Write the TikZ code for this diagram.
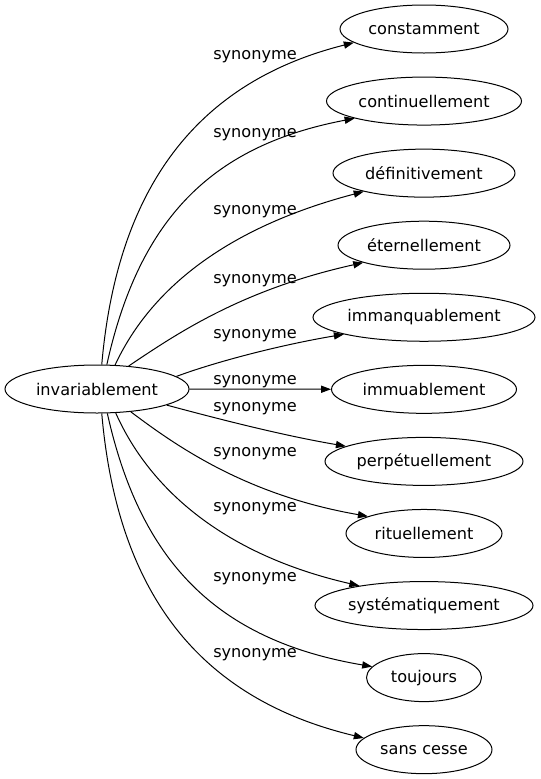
\documentclass[tikz,border=0pt]{standalone}
\usepackage{fontspec}
\setmainfont{DejaVu Sans}
\usetikzlibrary{arrows.meta, positioning, shapes.geometric}

\begin{document}
\begin{tikzpicture}
   [
      % Work in pixels of the original drawing, y pointing down
      x=0.75pt, y=-0.75pt,
      % Style for the words: ellipse, thin border, fixed height
      word/.style={ellipse, draw, line width=0.75pt, minimum height=36pt, inner sep=0pt, font=\fontsize{12.1pt}{14pt}\selectfont},
      % Style for the synonym arrows
      link/.style={line width=0.75pt, -{Triangle[length=7.5pt, width=5.4pt]}},
      % Style for the arrow labels
      link label/.style={inner sep=0pt, font=\fontsize{12.1pt}{14pt}\selectfont}
   ]
   \useasboundingbox (0,0) rectangle (540,779);

    % =======================================================
    % Source word
    % =======================================================
    \node[word, minimum width=138pt] (inv) at (97,389) {invariablement};

    % =======================================================
    % Target words, stacked in one column
    % =======================================================
    \node[word, minimum width=126pt] (const) at (424,29) {constamment};
    \node[word, minimum width=146.25pt, below=17.3pt of const] (contin) {continuellement};
    \node[word, minimum width=136.5pt, below=17.3pt of contin] (defin) {définitivement};
    \node[word, minimum width=129pt, below=17.3pt of defin] (etern) {éternellement};
    \node[word, minimum width=166.5pt, below=17.3pt of etern] (immanq) {immanquablement};
    \node[word, minimum width=138.75pt, below=17.3pt of immanq] (immuab) {immuablement};
    \node[word, minimum width=148.5pt, below=17.3pt of immuab] (perpet) {perpétuellement};
    \node[word, minimum width=117pt, below=17.3pt of perpet] (rituel) {rituellement};
    \node[word, minimum width=163.5pt, below=17.3pt of rituel] (system) {systématiquement};
    \node[word, minimum width=86.25pt, below=17.3pt of system] (toujours) {toujours};
    \node[word, minimum width=102pt, below=17.3pt of toujours] (sanscesse) {sans cesse};

    % =======================================================
    % Arrows from the source word to each synonym
    % =======================================================
    \draw[link] (inv.79) .. controls (118,178) and (205,80) .. (const.191);
    \draw[link] (inv.68) .. controls (140,215) and (215,145) .. (contin.194);
    \draw[link] (inv.53) .. controls (150,290) and (225,228) .. (defin.197);
    \draw[link] (inv.36) .. controls (175,335) and (240,290) .. (etern.196);
    \draw[link] (inv.9) .. controls (215,362) and (280,345) .. (immanq.192);
    \draw[link] (inv) -- (immuab);
    \draw[link] (inv.347) .. controls (215,418) and (280,435) .. (perpet.169);
    \draw[link] (inv.326) .. controls (175,445) and (245,495) .. (rituel.163);
    \draw[link] (inv.308) .. controls (150,490) and (225,555) .. (system.163);
    \draw[link] (inv.293) .. controls (140,560) and (215,640) .. (toujours.168);
    \draw[link] (inv.281) .. controls (118,600) and (205,700) .. (sanscesse.169);

    % Labels on the arrows
    \node[link label] (syn_const) at (255,57) {synonyme};
    \node[link label] (syn_contin) at (255,135) {synonyme};
    \node[link label] (syn_defin) at (255,212) {synonyme};
    \node[link label] (syn_etern) at (255,281) {synonyme};
    \node[link label] (syn_immanq) at (255,336) {synonyme};
    \node[link label] (syn_immuab) at (255,382) {synonyme};
    \node[link label] (syn_perpet) at (255,409) {synonyme};
    \node[link label] (syn_rituel) at (255,454) {synonyme};
    \node[link label] (syn_system) at (255,509) {synonyme};
    \node[link label] (syn_toujours) at (255,579) {synonyme};
    \node[link label] (syn_sanscesse) at (255,655) {synonyme};

\end{tikzpicture}
\end{document}
